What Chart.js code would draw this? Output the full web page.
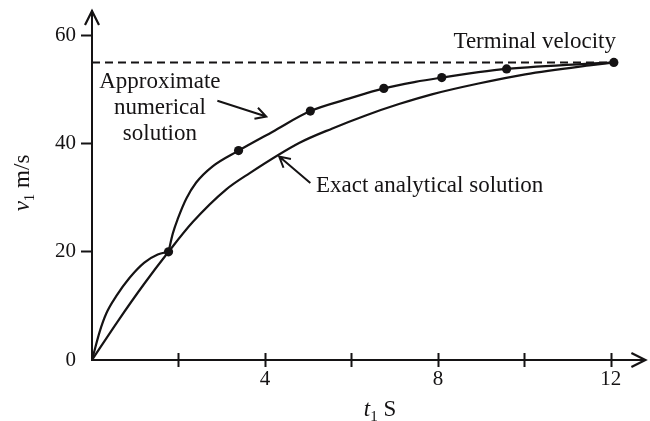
<!DOCTYPE html>
<html>
<head>
<meta charset="utf-8">
<title>Velocity</title>
<script src="https://cdn.jsdelivr.net/npm/chart.js@4/dist/chart.umd.min.js"></script>
<style>
    html, body { margin: 0; padding: 0; background: #fff; }
</style>
</head>
<body>
<canvas id="chart" width="650" height="421"></canvas>

<script>
const ink = '#151314'
const serif = '"Liberation Serif", "Times New Roman", serif'

// exact analytical solution
const exactT = [0, 0.6, 1.2, 1.77, 2.33, 3.1, 3.64, 4.79, 5.56, 6.33, 7.1, 7.86, 8.94, 10.02, 11.55, 12.07]
const exactV = [0, 7.2, 14, 20, 25.5, 31.5, 34.5, 40.1, 42.8, 45.2, 47.3, 49.1, 51.1, 52.8, 54.5, 55]

// approximate numerical solution: first step, then the remaining steps
const numT1 = [0, 0.18, 0.33, 0.56, 0.87, 1.21, 1.52, 1.77]
const numV1 = [0, 5.3, 8.6, 11.8, 15.2, 18.0, 19.5, 20]
const numT2 = [1.77, 1.87, 1.99, 2.18, 2.41, 2.79, 3.39, 4.18, 5.05, 5.94, 6.75, 7.48, 8.09, 8.94, 9.59, 12.07]
const numV2 = [20, 23.4, 26.2, 29.8, 32.8, 35.8, 38.7, 42.2, 46.0, 48.3, 50.2, 51.4, 52.2, 53.2, 53.8, 55]

// computed steps (dots)
const stepT = [1.77, 3.39, 5.05, 6.75, 8.09, 9.59, 12.07]
const stepV = [20, 38.7, 46.0, 50.2, 52.2, 53.8, 55]

// terminal velocity
const termT = [0, 12.07]
const termV = [55, 55]

const xTicks = [2, 4, 6, 8, 10, 12]
const xLabels = [4, 8, 12]
const yTicks = [0, 20, 40, 60]
const xMax = 12.8
const yMax = 64.5

const notes = [
    { text: 'Terminal velocity', t: 10.24, v: 58.7, align: 'center' },
    { text: 'Approximate', t: 1.57, v: 51.4, align: 'center' },
    { text: 'numerical', t: 1.57, v: 46.5, align: 'center' },
    { text: 'solution', t: 1.57, v: 41.8, align: 'center' },
    { text: 'Exact analytical solution', t: 5.18, v: 32.1, align: 'left' },
]
const pointers = [
    { from: [2.9, 47.9], to: [4.03, 45.0] },
    { from: [5.05, 32.7], to: [4.33, 37.6] },
]

const pts = (t, v) => t.map((tv, i) => ({ x: tv, y: v[i] }))

// text with an italic symbol and a subscript, centred on (0, 0)
function symbolText(ctx, sym, sub, rest) {
    const big = '23px ' + serif
    const parts = [
        { s: sym, font: 'italic ' + big, dy: 0 },
        { s: sub, font: '15px ' + serif, dy: 5 },
        { s: rest, font: big, dy: 0 },
    ]
    let w = 0
    parts.forEach(p => { ctx.font = p.font; p.w = ctx.measureText(p.s).width; w += p.w })
    let x = -w / 2
    ctx.textAlign = 'left'
    ctx.textBaseline = 'alphabetic'
    parts.forEach(p => { ctx.font = p.font; ctx.fillText(p.s, x, p.dy); x += p.w })
}

const decor = {
    id: 'decor',
    afterDraw(chart) {
        const { ctx, chartArea: a, scales: { x, y } } = chart
        ctx.save()
        ctx.strokeStyle = ink
        ctx.fillStyle = ink
        ctx.lineWidth = 2
        ctx.lineCap = 'butt'

        // x tick marks cross the axis
        ctx.beginPath()
        xTicks.forEach(t => {
            const px = Math.round(x.getPixelForValue(t)) + 0.5
            ctx.moveTo(px, a.bottom - 7)
            ctx.lineTo(px, a.bottom + 7)
        })
        ctx.stroke()

        // axis arrowheads
        ctx.lineWidth = 2.2
        ctx.beginPath()
        ctx.moveTo(a.left - 7, a.top + 14)
        ctx.lineTo(a.left, a.top)
        ctx.lineTo(a.left + 7, a.top + 14)
        ctx.moveTo(a.right - 14, a.bottom - 7)
        ctx.lineTo(a.right, a.bottom)
        ctx.lineTo(a.right - 14, a.bottom + 7)
        ctx.stroke()

        // labels on the curves
        ctx.font = '23px ' + serif
        ctx.textBaseline = 'middle'
        notes.forEach(n => {
            ctx.textAlign = n.align
            ctx.fillText(n.text, x.getPixelForValue(n.t), y.getPixelForValue(n.v))
        })

        // pointer arrows
        ctx.lineWidth = 2
        pointers.forEach(p => {
            const x0 = x.getPixelForValue(p.from[0]), y0 = y.getPixelForValue(p.from[1])
            const x1 = x.getPixelForValue(p.to[0]), y1 = y.getPixelForValue(p.to[1])
            const ang = Math.atan2(y1 - y0, x1 - x0)
            const len = 12, spread = 0.5
            ctx.beginPath()
            ctx.moveTo(x0, y0)
            ctx.lineTo(x1, y1)
            ctx.moveTo(x1 - len * Math.cos(ang - spread), y1 - len * Math.sin(ang - spread))
            ctx.lineTo(x1, y1)
            ctx.lineTo(x1 - len * Math.cos(ang + spread), y1 - len * Math.sin(ang + spread))
            ctx.stroke()
        })

        // axis titles
        ctx.save()
        ctx.translate(380, 416)
        symbolText(ctx, 't', '1', ' S')
        ctx.restore()
        ctx.save()
        ctx.translate(29, 183)
        ctx.rotate(-Math.PI / 2)
        symbolText(ctx, 'v', '1', ' m/s')
        ctx.restore()

        ctx.restore()
    },
}

const curve = {
    borderColor: ink,
    borderWidth: 2.2,
    pointRadius: 0,
    fill: false,
    cubicInterpolationMode: 'monotone',
}

new Chart('chart', {
    type: 'line',
    data: {
        datasets: [
            { data: pts(termT, termV), borderColor: ink, borderWidth: 2, borderDash: [8, 5], pointRadius: 0, fill: false },
            { data: pts(exactT, exactV), ...curve },
            { data: pts(numT1, numV1), ...curve },
            { data: pts(numT2, numV2), ...curve },
            {
                data: pts(stepT, stepV),
                showLine: false,
                pointRadius: 4.6,
                pointBorderWidth: 0,
                pointBackgroundColor: ink,
                pointBorderColor: ink,
            },
        ],
    },
    options: {
        responsive: false,
        animation: false,
        events: [],
        layout: { padding: { top: 11, right: 2, left: 0, bottom: 0 } },
        plugins: { legend: { display: false }, tooltip: { enabled: false } },
        scales: {
            x: {
                type: 'linear',
                min: 0,
                max: xMax,
                afterBuildTicks: s => { s.ticks = xTicks.map(v => ({ value: v })) },
                afterFit: s => { s.height = 61; s.paddingLeft = 0; s.paddingRight = 0 },
                grid: { display: false, drawTicks: false },
                border: { display: true, color: ink, width: 2 },
                ticks: {
                    padding: 7,
                    color: ink,
                    autoSkip: false,
                    maxRotation: 0,
                    font: { family: serif, size: 21 },
                    callback: v => (xLabels.includes(v) ? String(v) : ''),
                },
            },
            y: {
                type: 'linear',
                min: 0,
                max: yMax,
                afterBuildTicks: s => { s.ticks = yTicks.map(v => ({ value: v })) },
                afterFit: s => { s.width = 92; s.paddingTop = 0; s.paddingBottom = 0 },
                grid: {
                    display: true,
                    drawOnChartArea: false,
                    drawTicks: true,
                    tickLength: 11,
                    tickWidth: 2,
                    tickColor: c => (c.tick && c.tick.value === 0 ? 'rgba(0,0,0,0)' : ink),
                },
                border: { display: true, color: ink, width: 2 },
                ticks: { padding: 5, color: ink, font: { family: serif, size: 21 } },
            },
        },
    },
    plugins: [decor],
})
</script>
</body>
</html>
